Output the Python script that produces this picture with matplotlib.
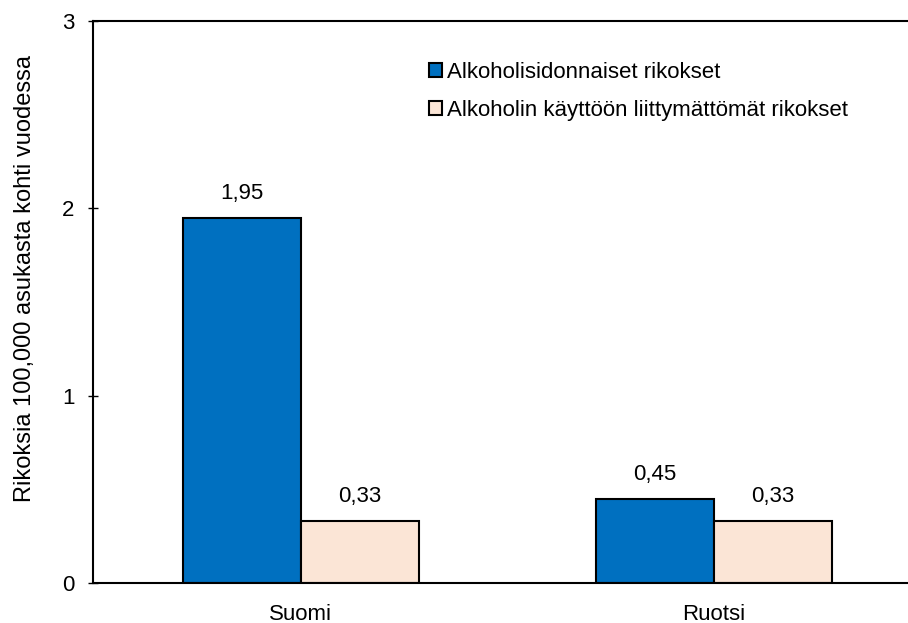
import numpy as np
import matplotlib.pyplot as plt

plt.rcParams["font.family"] = ["Liberation Sans", "DejaVu Sans"]

countries = ["Suomi", "Ruotsi"]
alcohol = [1.95, 0.45]
non_alcohol = [0.33, 0.33]
series_labels = ["Alkoholisidonnaiset rikokset",
                 "Alkoholin käyttöön liittymättömät rikokset"]
y_ticks = [0, 1, 2, 3]

fig = plt.figure(figsize=(9.08, 6.23), dpi=100)
ax = fig.add_axes([93 / 908, 40 / 623, 1 - 93 / 908, 562 / 623])

x = np.arange(len(countries))
w = 0.2854
b1 = ax.bar(x - w / 2, alcohol, w, color="#0070C0", edgecolor="black",
            linewidth=1.5, label=series_labels[0])
b2 = ax.bar(x + w / 2, non_alcohol, w, color="#FBE5D6", edgecolor="black",
            linewidth=1.5, label=series_labels[1])

for bars, vals in [(b1, alcohol), (b2, non_alcohol)]:
    for r, v in zip(bars, vals):
        ax.annotate(f"{v:.2f}".replace(".", ","),
                    (r.get_x() + r.get_width() / 2, v),
                    xytext=(0, 10), textcoords="offset points",
                    ha="center", va="bottom", fontsize=16)

ax.set_xlim(-0.503, 1.47)
ax.set_ylim(0, 3)
ax.set_yticks(y_ticks)
ax.set_yticklabels([str(t) for t in y_ticks])
ax.set_xticks(x)
ax.set_xticklabels(countries)
ax.tick_params(axis="y", direction="inout", length=7, width=1, labelsize=16, pad=10)
ax.tick_params(axis="x", length=0, labelsize=16, pad=15)
ax.set_ylabel("Rikoksia 100,000 asukasta kohti vuodessa", fontsize=17)
ax.yaxis.set_label_coords(-0.070, 0.541)

for s in ["left", "top", "bottom"]:
    ax.spines[s].set_linewidth(1.5)
ax.spines["right"].set_visible(False)

ax.legend(loc="upper left", bbox_to_anchor=(429 / 908, 1 - 62 / 623),
          bbox_transform=fig.transFigure, frameon=False, fontsize=16,
          handlelength=0.6, handleheight=0.6, handletextpad=0.2,
          labelspacing=0.75, borderpad=0, borderaxespad=0)

fig.savefig("out.png", dpi=100)
